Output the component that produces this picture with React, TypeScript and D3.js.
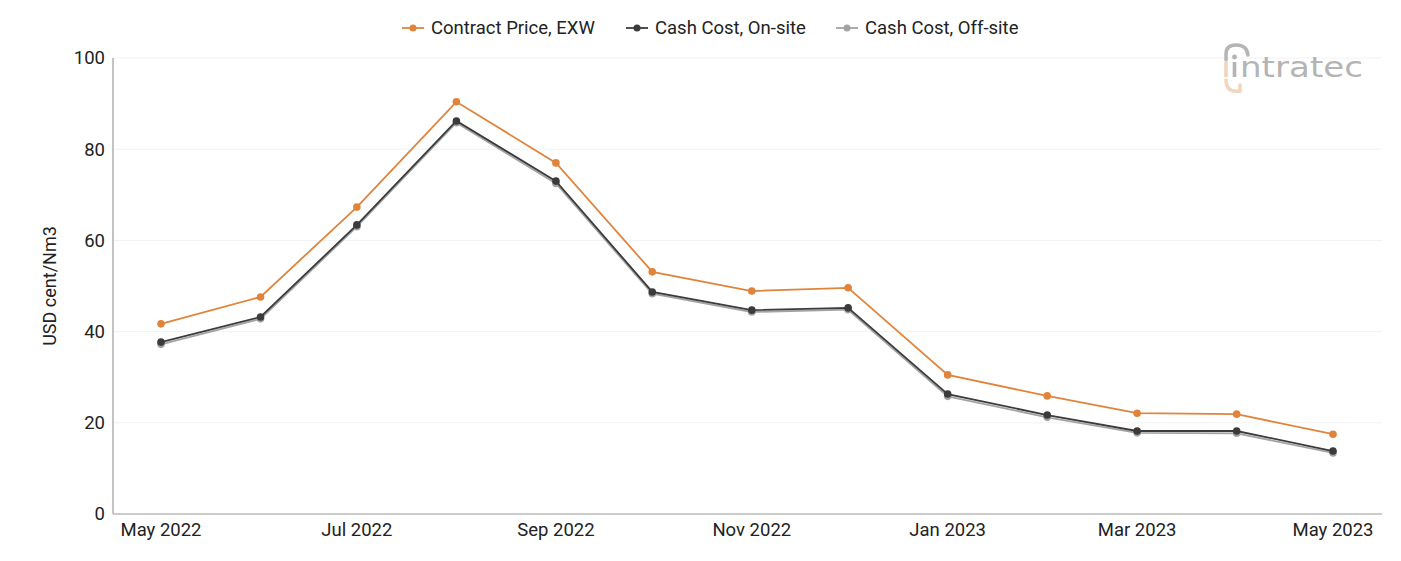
import * as d3 from "d3";

const months = [
  "2022-05", "2022-06", "2022-07", "2022-08", "2022-09", "2022-10", "2022-11",
  "2022-12", "2023-01", "2023-02", "2023-03", "2023-04", "2023-05",
];
const contractPrice = [41.7, 47.6, 67.3, 90.4, 77.0, 53.1, 48.9, 49.6, 30.5, 25.9, 22.1, 21.9, 17.5];
const cashOnSite = [37.7, 43.2, 63.4, 86.2, 73.0, 48.7, 44.7, 45.2, 26.3, 21.7, 18.2, 18.2, 13.8];
const cashOffSite = [37.2, 42.8, 63.0, 85.8, 72.5, 48.3, 44.3, 44.8, 25.8, 21.2, 17.8, 17.7, 13.4];
const yTicks = [0, 20, 40, 60, 80, 100];

const seriesList = [
  { name: "Contract Price, EXW", values: contractPrice, color: "#e0843c" },
  { name: "Cash Cost, On-site", values: cashOnSite, color: "#3b3b3b" },
  { name: "Cash Cost, Off-site", values: cashOffSite, color: "#a3a3a3" },
];

const width = 1401;
const height = 561;
const margin = { top: 58, right: 19, bottom: 47, left: 113 };
const font = "Roboto, 'Noto Sans', sans-serif";

const parse = d3.timeParse("%Y-%m");
const dates = months.map(m => parse(m) as Date);

export default function App() {
  const x = d3.scaleTime()
    .domain([dates[0], dates[dates.length - 1]])
    .range([161, 1333]);
  const y = d3.scaleLinear()
    .domain([0, 100])
    .range([height - margin.bottom, margin.top]);

  const line = d3.line<number>()
    .x((_, i) => x(dates[i]))
    .y(d => y(d));

  const fmt = d3.timeFormat("%b %Y");
  const xTicks = dates.filter((_, i) => i % 2 === 0);

  // legend items laid out left to right
  const legendX = [402, 626, 836];

  return (
    <svg width={width} height={height} style={{ position: "absolute", left: 0, top: 0 }} fontFamily={font}>
      {/* grid */}
      {yTicks.filter(t => t > 0).map(t => (
        <line key={t} x1={margin.left} x2={width - margin.right} y1={y(t)} y2={y(t)} stroke="#f2f2f2" />
      ))}

      {/* axes */}
      <line x1={margin.left} x2={margin.left} y1={y(100)} y2={y(0)} stroke="#888" strokeWidth={1} />
      <line x1={margin.left} x2={width - margin.right} y1={y(0)} y2={y(0)} stroke="#bbb" strokeWidth={1.5} />

      {yTicks.map(t => (
        <text key={t} x={margin.left - 8} y={y(t)} dy="0.35em" textAnchor="end" fontSize={18.5} fill="#222">{t}</text>
      ))}
      {xTicks.map(d => (
        <text key={+d} x={x(d)} y={536} textAnchor="middle" fontSize={18.5} fill="#222">{fmt(d)}</text>
      ))}

      <text transform={`translate(56,${(y(0) + y(100)) / 2}) rotate(-90)`} textAnchor="middle" fontSize={18} fill="#222">
        USD cent/Nm3
      </text>

      {/* logo */}
      <g opacity={0.85}>
        <path d="M1226,60 L1226,54 Q1226,45 1236,45 Q1247,45 1248,55" fill="none" stroke="#a8a8a8" strokeWidth={3.5} strokeLinecap="round" />
        <rect x={1224.2} y={62} width={3.6} height={15} fill="#efcfb2" />
        <path d="M1226,80 Q1226,93 1240,91 L1240,85" fill="none" stroke="#efcfb2" strokeWidth={3.5} strokeLinecap="round" />
        <circle cx={1234.5} cy={57} r={2.4} fill="#a8a8a8" />
        <rect x={1232.7} y={62} width={3.6} height={15} fill="#a8a8a8" />
        <text x={1240} y={77} fontSize={28} fontFamily="'DejaVu Sans', sans-serif" fill="#a8a8a8" textLength={123} lengthAdjust="spacingAndGlyphs">ntratec</text>
      </g>

      {/* series */}
      {seriesList.slice().reverse().map(s => (
        <g key={s.name}>
          <path d={line(s.values) ?? ""} fill="none" stroke={s.color} strokeWidth={1.8} />
          {s.values.map((v, i) => (
            <circle key={i} cx={x(dates[i])} cy={y(v)} r={3.8} fill={s.color} />
          ))}
        </g>
      ))}

      {/* legend */}
      {seriesList.map((s, i) => (
        <g key={s.name} transform={`translate(${legendX[i]},28)`}>
          <line x1={0} x2={22} y1={0} y2={0} stroke={s.color} strokeWidth={1.8} />
          <circle cx={11} cy={0} r={3.5} fill={s.color} />
          <text x={29} y={0} dy="0.35em" fontSize={18.5} fill="#222">{s.name}</text>
        </g>
      ))}
    </svg>
  );
}
